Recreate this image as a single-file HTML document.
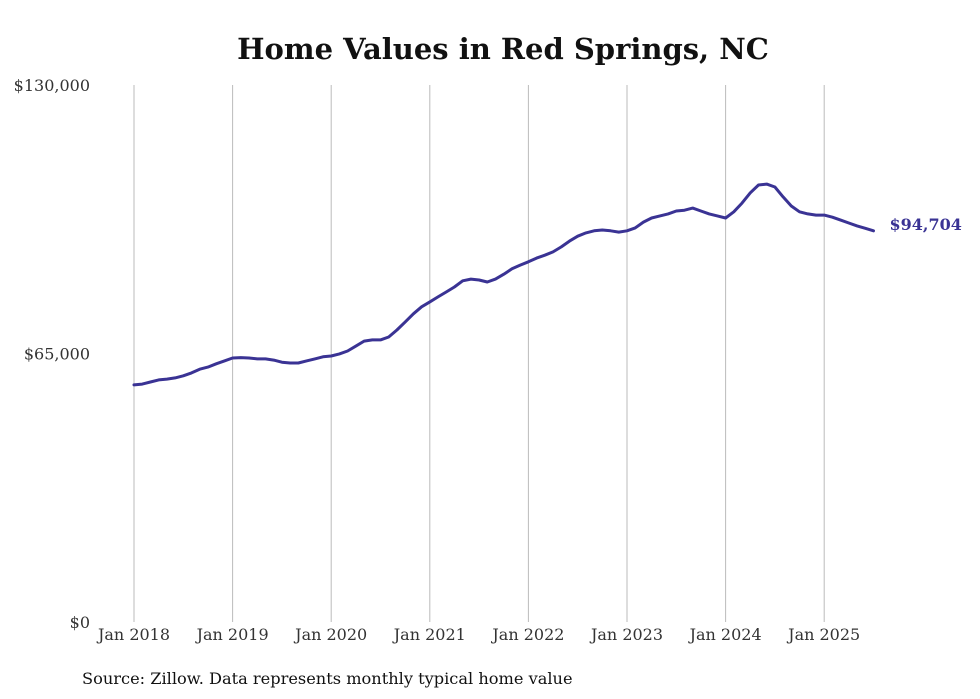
<!DOCTYPE html>
<html><head><meta charset="utf-8"><style>
html,body{margin:0;padding:0;background:#fff;}
svg{display:block;}
</style></head><body>
<svg id="chart" width="980" height="699" viewBox="0 0 980 699" xmlns="http://www.w3.org/2000/svg">
<text x="503" y="59" text-anchor="middle" font-family="DejaVu Serif, serif" font-weight="bold" font-size="29" fill="#111">Home Values in Red Springs, NC</text>
<g id="grid"></g>
<g id="yaxis"></g>
<g id="xaxis"></g>
<path id="line" fill="none" stroke="#3a3394" stroke-width="3" stroke-linejoin="round" stroke-linecap="round"/>
<text id="endlabel" font-family="DejaVu Serif, serif" font-weight="bold" font-size="16" fill="#3a3394"></text>
<text x="82" y="684" font-family="DejaVu Serif, serif" font-size="16.2" fill="#111">Source: Zillow. Data represents monthly typical home value</text>
</svg>
<script>
const startYear = 2018;
const yTicks = [0, 65000, 130000];
const yTickLabels = ["$0", "$65,000", "$130,000"];
const xTickLabels = ["Jan 2018","Jan 2019","Jan 2020","Jan 2021","Jan 2022","Jan 2023","Jan 2024","Jan 2025"];
const values = [
57400,57600,58100,58600,58800,59100,59600,60300,61200,61700,62500,63200,
63900,64000,63900,63700,63700,63400,62900,62700,62700,63200,63700,64200,
64400,64900,65600,66800,68000,68300,68300,69000,70700,72600,74600,76300,
77500,78700,79900,81100,82600,83000,82800,82300,83000,84200,85500,86400,
87200,88100,88800,89600,90800,92200,93400,94200,94700,94900,94700,94400,
94700,95400,96800,97800,98300,98800,99500,99700,100200,99500,98800,98300,
97800,99300,101400,103900,105800,106000,105300,102900,100700,99300,98800,98500,
98500,98000,97300,96600,95900,95300,94704];
const lastLabel = "$94,704";

const NS="http://www.w3.org/2000/svg";
const x0=134, pxPerYear=98.6, yBase=622, yTop=85, yMax=130000;
const xScale = m => x0 + m*pxPerYear/12;
const yScale = v => yBase - v/yMax*(yBase-yTop);
const grid=document.getElementById('grid'), ya=document.getElementById('yaxis'), xa=document.getElementById('xaxis');
xTickLabels.forEach((lab,i)=>{
  const x=xScale(i*12);
  const l=document.createElementNS(NS,'line');
  
  
  l.setAttribute('x1',x);l.setAttribute('x2',x);l.setAttribute('y1',yTop);l.setAttribute('y2',yBase);
  l.setAttribute('stroke','#bbb');l.setAttribute('stroke-width','1');
  grid.appendChild(l);
  const t=document.createElementNS(NS,'text');
  
  
  t.setAttribute('x',x);t.setAttribute('y',640);t.setAttribute('text-anchor','middle');
  t.setAttribute('font-family','DejaVu Serif, serif');t.setAttribute('font-size','16');t.setAttribute('fill','#333');
  t.textContent=lab;xa.appendChild(t);
});
yTicks.forEach((v,i)=>{
  const t=document.createElementNS(NS,'text');
  
  
  t.setAttribute('x',90);t.setAttribute('y',yScale(v)+6);t.setAttribute('text-anchor','end');
  t.setAttribute('font-family','DejaVu Serif, serif');t.setAttribute('font-size','16');t.setAttribute('fill','#333');
  t.textContent=yTickLabels[i];ya.appendChild(t);
});
let d='';
values.forEach((v,i)=>{d+=(i?'L':'M')+xScale(i).toFixed(1)+','+yScale(v).toFixed(1);});
document.getElementById('line').setAttribute('d',d);
const el=document.getElementById('endlabel');
const li=values.length-1;
el.setAttribute('x',xScale(li)+16);el.setAttribute('y',yScale(values[li])-1);
el.textContent=lastLabel;
</script>
</body></html>
